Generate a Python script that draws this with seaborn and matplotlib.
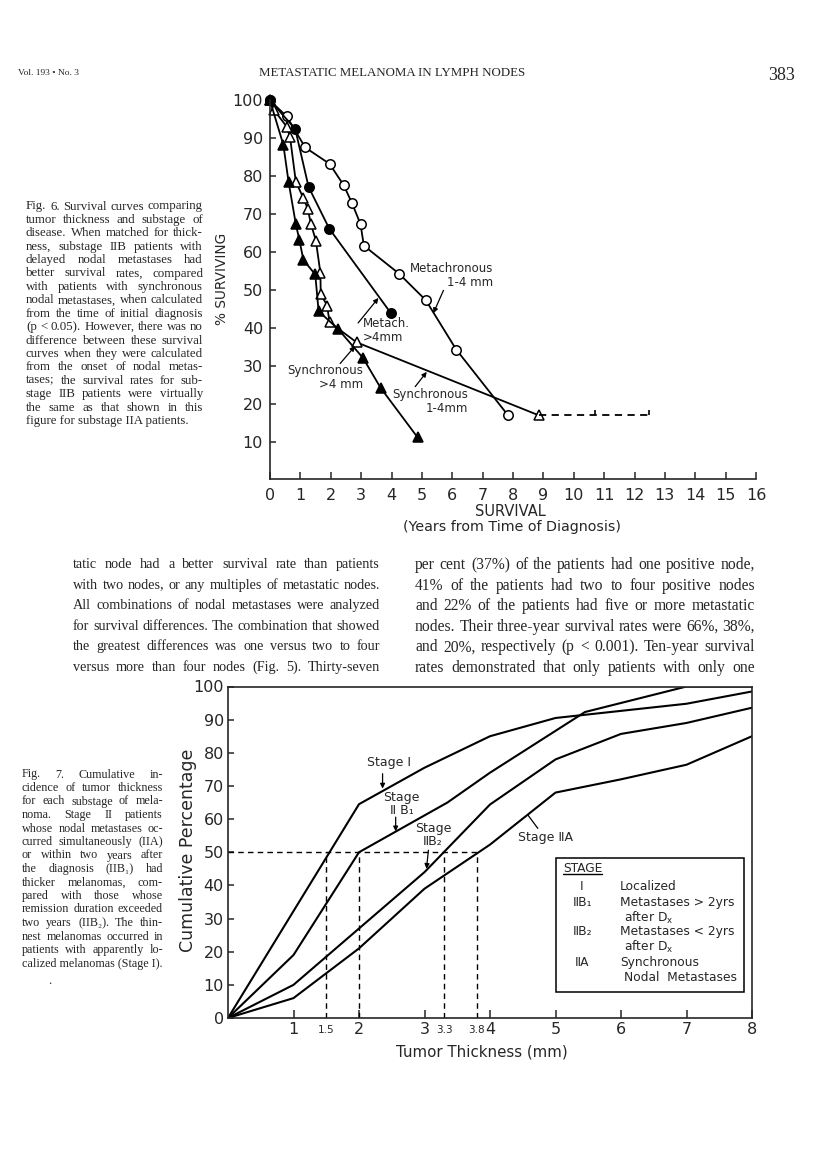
import matplotlib
matplotlib.use("Agg")
import matplotlib.pyplot as plt
import seaborn as sns
from matplotlib.lines import Line2D
from matplotlib.patches import Rectangle

W, H = 816, 1159
SERIF = ["Liberation Serif", "DejaVu Serif"]
SANS = ["DejaVu Sans"]

# ---- Fig. 6: survival (years from diagnosis) vs % surviving ----
meta_14_years = [0, 0.55, 1.16, 1.96, 2.43, 2.70, 2.98, 3.09, 4.25, 5.13, 6.13, 7.84]
meta_14_surv = [100, 95.8, 87.6, 83.3, 77.6, 72.9, 67.4, 61.7, 54.3, 47.3, 34.3, 16.9]
meta_4_years = [0, 0.83, 1.27, 1.95, 3.97]
meta_4_surv = [100, 92.5, 77.2, 66.2, 44.0]
sync_14_years = [0, 0.13, 0.55, 0.66, 0.85, 1.10, 1.24, 1.35, 1.51, 1.66, 1.67, 1.88, 1.96, 2.85, 8.86]
sync_14_surv = [100, 97.5, 93.1, 90.3, 78.6, 74.2, 71.5, 67.4, 63.0, 54.5, 49.0, 45.9, 41.5, 36.2, 16.9]
sync_14_tail_years = [8.86, 12.47]
sync_14_tail_surv = [16.9, 16.9]
sync_14_censored = [10.7, 12.47]
sync_4_years = [0, 0.44, 0.61, 0.85, 0.97, 1.10, 1.49, 1.60, 2.23, 3.06, 3.64, 4.86]
sync_4_surv = [100, 88.3, 78.6, 67.4, 63.1, 57.9, 54.1, 44.4, 39.8, 32.1, 24.2, 11.1]
survival_ticks = list(range(0, 17))
surviving_ticks = list(range(10, 101, 10))

# ---- Fig. 7: cumulative incidence of tumor thickness ----
stage_i_mm = [0, 2, 3, 4, 5, 7, 8]
stage_i_pct = [0, 64.5, 75.5, 85, 90.5, 94.8, 98.5]
stage_iib1_mm = [0, 1, 2, 3.35, 4, 5.45, 7, 8]
stage_iib1_pct = [0, 19, 50, 65, 74, 92.3, 100, 100]
stage_iib2_mm = [0, 1, 2, 3, 4, 5, 6, 7, 8]
stage_iib2_pct = [0, 10, 27, 44, 64.4, 78, 85.7, 89, 93.6]
stage_iia_mm = [0, 1, 2, 3, 4, 5, 6, 7, 8]
stage_iia_pct = [0, 6, 21, 39, 52.3, 68, 72, 76.4, 85]
median_mm = [1.5, 2, 3.3, 3.8]
median_labels = ["1.5", "", "3.3", "3.8"]
thickness_ticks = [1, 2, 3, 4, 5, 6, 7, 8]
percent_ticks = list(range(0, 101, 10))

legend_rows = [
    ("I", "Localized", None),
    ("ⅡB₁", "Metastases > 2yrs", r"after D$_{\mathregular{x}}$"),
    ("ⅡB₂", "Metastases < 2yrs", r"after D$_{\mathregular{x}}$"),
    ("ⅡA", "Synchronous", "Nodal  Metastases"),
]

caption6 = [
    "Fig. 6. Survival curves comparing",
    "tumor thickness and substage of",
    "disease. When matched for thick-",
    "ness, substage IIB patients with",
    "delayed nodal metastases had",
    "better survival rates, compared",
    "with patients with synchronous",
    "nodal metastases, when calculated",
    "from the time of initial diagnosis",
    "(p < 0.05). However, there was no",
    "difference between these survival",
    "curves when they were calculated",
    "from the onset of nodal metas-",
    "tases; the survival rates for sub-",
    "stage IIB patients were virtually",
    "the same as that shown in this",
    "figure for substage IIA patients.",
]
caption7 = [
    "Fig. 7. Cumulative in-",
    "cidence of tumor thickness",
    "for each substage of mela-",
    "noma. Stage II patients",
    "whose nodal metastases oc-",
    "curred simultaneously (IIA)",
    "or within two years after",
    "the diagnosis (IIB₁) had",
    "thicker melanomas, com-",
    "pared with those whose",
    "remission duration exceeded",
    "two years (IIB₂). The thin-",
    "nest melanomas occurred in",
    "patients with apparently lo-",
    "calized melanomas (Stage I).",
]
body_left = [
    "tatic node had a better survival rate than patients",
    "with two nodes, or any multiples of metastatic nodes.",
    "All combinations of nodal metastases were analyzed",
    "for survival differences. The combination that showed",
    "the greatest differences was one versus two to four",
    "versus more than four nodes (Fig. 5). Thirty-seven",
]
body_right = [
    "per cent (37%) of the patients had one positive node,",
    "41% of the patients had two to four positive nodes",
    "and 22% of the patients had five or more metastatic",
    "nodes. Their three-year survival rates were 66%, 38%,",
    "and 20%, respectively (p < 0.001). Ten-year survival",
    "rates demonstrated that only patients with only one",
]

sns.set_theme(style="ticks")
plt.rcParams["font.family"] = SANS
plt.rcParams["axes.linewidth"] = 1.2
plt.rcParams["mathtext.fontset"] = "dejavusans"

fig = plt.figure(figsize=(W / 100, H / 100), dpi=100)
fig.patch.set_facecolor("white")
renderer = fig.canvas.get_renderer()


def fx(x):
    return x / W


def fy(y):
    return 1 - y / H


def page_text(x, y, s, **kw):
    kw.setdefault("va", "center_baseline")
    return fig.text(fx(x), fy(y), s, **kw)


def fit_size(lines, width, cap, probe=10.0):
    # largest size at which every line still fits with normal word spacing
    widest = 0
    for line in lines:
        t = page_text(0, 0, line, fontsize=probe, family=SERIF)
        widest = max(widest, t.get_window_extent(renderer).width)
        t.remove()
    return min(cap, probe * width / widest)


def justified(lines, x0, x1, y0, step, cap, last_ragged=True):
    size = fit_size(lines, x1 - x0, cap)
    for i, line in enumerate(lines):
        y = y0 + i * step
        if last_ragged and i == len(lines) - 1:
            page_text(x0, y, line, fontsize=size, family=SERIF)
            continue
        words = line.split()
        texts = [page_text(x0, y, w, fontsize=size, family=SERIF) for w in words]
        widths = [t.get_window_extent(renderer).width for t in texts]
        gap = (x1 - x0 - sum(widths)) / max(len(words) - 1, 1)
        x = x0
        for t, w in zip(texts, widths):
            t.set_x(fx(x))
            x += w + gap


def arrow(ax, tail, tip):
    ax.annotate("", xy=tip, xytext=tail,
                arrowprops=dict(arrowstyle="-|>", color="black", lw=0.9,
                                mutation_scale=7, shrinkA=0, shrinkB=0))


# page header
page_text(18, 72, "Vol. 193 • No. 3", fontsize=6.8, family=SERIF)
page_text(392, 72, "METASTATIC MELANOMA IN LYMPH NODES", fontsize=9.3,
          family=SERIF, ha="center")
page_text(782, 73, "383", fontsize=13, family=SERIF, ha="center")

# ---------------- Fig. 6 ----------------
ax6 = fig.add_axes([fx(270), fy(479.5), (756 - 270) / W, (479.5 - 100.5) / H])
line_kw = dict(ax=ax6, color="black", lw=1.3, estimator=None, sort=False,
               markeredgecolor="black", markeredgewidth=1.1, clip_on=False)
sns.lineplot(x=meta_14_years, y=meta_14_surv, marker="o", markersize=6.8,
             markerfacecolor="white", **line_kw)
sns.lineplot(x=meta_4_years, y=meta_4_surv, marker="o", markersize=6.8,
             markerfacecolor="black", **line_kw)
sns.lineplot(x=sync_14_years, y=sync_14_surv, marker="^", markersize=7.2,
             markerfacecolor="white", **line_kw)
sns.lineplot(x=sync_4_years, y=sync_4_surv, marker="^", markersize=7.2,
             markerfacecolor="black", **line_kw)
sns.lineplot(x=sync_14_tail_years, y=sync_14_tail_surv, ax=ax6, color="black",
             lw=1.3, linestyle=(0, (4, 3)), estimator=None, sort=False)
ax6.vlines(sync_14_censored, sync_14_tail_surv[0], sync_14_tail_surv[0] + 1.5,
           color="black", lw=1.2)
ax6.plot([0], [100], marker="s", color="black", markersize=5, clip_on=False)

ax6.set_xlim(0, 16)
ax6.set_ylim(0, 100)
ax6.set_xticks(survival_ticks)
ax6.set_yticks(surviving_ticks)
ax6.tick_params(axis="x", direction="in", length=5, width=1.1, pad=6, labelsize=11.5)
ax6.tick_params(axis="y", direction="in", length=4, width=1.1, pad=5, labelsize=11.5)
ax6.set_xlabel("")
ax6.set_ylabel("")
sns.despine(ax=ax6)
ax6.patch.set_alpha(0)

ax6.text(7.35, 53.7, "Metachronous\n1-4 mm", fontsize=8.5, ha="right", va="center",
         multialignment="right", linespacing=1.1)
arrow(ax6, (5.71, 49.9), (5.38, 43.9))
ax6.text(3.06, 39.3, "Metach.\n>4mm", fontsize=8.5, ha="left", va="center",
         multialignment="left", linespacing=1.1)
arrow(ax6, (2.90, 41.3), (3.57, 47.9))
ax6.text(3.07, 26.9, "Synchronous\n>4 mm", fontsize=8.5, ha="right", va="center",
         multialignment="right", linespacing=1.1)
arrow(ax6, (2.31, 30.6), (2.80, 35.2))
ax6.text(6.52, 20.7, "Synchronous\n1-4mm", fontsize=8.5, ha="right", va="center",
         multialignment="right", linespacing=1.1)
arrow(ax6, (4.78, 24.5), (5.16, 28.4))

page_text(222, 279, "% SURVIVING", fontsize=9.8, rotation=90, ha="center", va="center")
page_text(510, 512, "SURVIVAL", fontsize=10.5, ha="center", va="center")
page_text(512, 527, "(Years from Time of Diagnosis)", fontsize=10.3, ha="center", va="center")

justified(caption6, 26, 203, 205, 13.4, 9.8)

# body text
justified(body_left, 73, 380, 563, 20.6, 11.5, last_ragged=False)
justified(body_right, 415, 755, 563, 20.6, 11.5, last_ragged=False)

# ---------------- Fig. 7 ----------------
ax7 = fig.add_axes([fx(228), fy(1018), (752 - 228) / W, (1018 - 686.5) / H])
stage_kw = dict(ax=ax7, color="black", lw=1.5, estimator=None, sort=False)
sns.lineplot(x=stage_i_mm, y=stage_i_pct, **stage_kw)
sns.lineplot(x=stage_iib1_mm, y=stage_iib1_pct, **stage_kw)
sns.lineplot(x=stage_iib2_mm, y=stage_iib2_pct, **stage_kw)
sns.lineplot(x=stage_iia_mm, y=stage_iia_pct, **stage_kw)
ax7.hlines(50, 0, max(median_mm), color="black", lw=1.0, linestyles=(0, (4, 3)))
ax7.vlines(median_mm, 0, 50, color="black", lw=1.0, linestyles=(0, (4, 3)))

ax7.set_xlim(0, 8)
ax7.set_ylim(0, 100)
ax7.set_xticks(thickness_ticks)
ax7.set_xticks(median_mm, labels=median_labels, minor=True)
ax7.set_yticks(percent_ticks)
ax7.tick_params(axis="x", which="major", direction="in", length=6, width=1.1,
                pad=3, labelsize=11.5)
ax7.tick_params(axis="x", which="minor", length=0, pad=5, labelsize=7.5)
ax7.tick_params(axis="y", direction="in", length=4, width=1.1, pad=3, labelsize=11.5)
ax7.set_xlabel("")
ax7.set_ylabel("")
for s in ax7.spines.values():
    s.set_visible(True)
    s.set_linewidth(1.2)

ax7.text(2.46, 77.1, "Stage I", fontsize=9, ha="center", va="center")
arrow(ax7, (2.36, 73.7), (2.36, 69.2))
ax7.text(2.65, 64.6, "Stage\nⅡ B₁", fontsize=9, ha="center", va="center", linespacing=1.0)
arrow(ax7, (2.56, 60.6), (2.56, 56.3))
ax7.text(3.13, 55.3, "Stage\nⅡB₂", fontsize=9, ha="center", va="center", linespacing=1.0)
arrow(ax7, (3.06, 50.6), (3.03, 45.0))
ax7.text(4.85, 54.5, "Stage ⅡA", fontsize=9, ha="center", va="center")
ax7.plot([4.73, 4.58], [57.2, 61.2], color="black", lw=0.9)

# legend box
fig.add_artist(Rectangle((fx(556), fy(992)), (744 - 556) / W, (992 - 858) / H,
                         transform=fig.transFigure, fill=False, lw=1.1, ec="black"))
st = page_text(563, 867, "STAGE", fontsize=8.8)
sw = st.get_window_extent(renderer).width
fig.add_artist(Line2D([fx(563), fx(563 + sw)], [fy(874), fy(874)],
                      transform=fig.transFigure, color="black", lw=1.0))
row_y = [885, 901, 930, 961]
for (code, desc, sub), y in zip(legend_rows, row_y):
    page_text(582, y, code, fontsize=8.8, ha="center")
    page_text(620, y, desc, fontsize=8.8)
    if sub:
        page_text(624, y + 15, sub, fontsize=8.8)

page_text(482, 1052, "Tumor Thickness (mm)", fontsize=10.8, ha="center", va="center")
page_text(188, 850, "Cumulative Percentage", fontsize=12.5, rotation=90,
          ha="center", va="center")

justified(caption7, 22, 163, 773, 13.5, 9.8)
page_text(48, 979, ".", fontsize=9, family=SERIF)

fig.savefig("out.png", dpi=100, facecolor="white")
